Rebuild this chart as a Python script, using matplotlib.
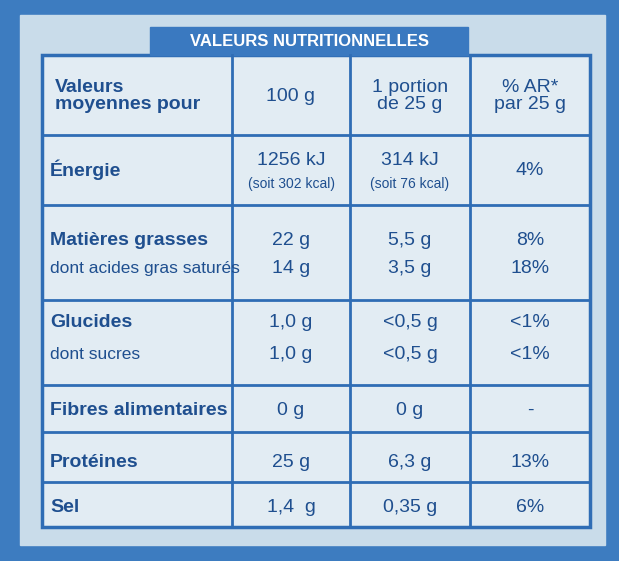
import matplotlib.pyplot as plt
from matplotlib.patches import Rectangle

title = "VALEURS NUTRITIONNELLES"
headers = ["Valeurs\nmoyennes pour", "100 g", "1 portion\nde 25 g", "% AR*\npar 25 g"]
nutrients = ["Énergie", "Matières grasses", "dont acides gras saturés", "Glucides", "dont sucres",
             "Fibres alimentaires", "Protéines", "Sel"]
per100 = ["1256 kJ", "22 g", "14 g", "1,0 g", "1,0 g", "0 g", "25 g", "1,4  g"]
per100_sub = ["(soit 302 kcal)", "", "", "", "", "", "", ""]
portion = ["314 kJ", "5,5 g", "3,5 g", "<0,5 g", "<0,5 g", "0 g", "6,3 g", "0,35 g"]
portion_sub = ["(soit 76 kcal)", "", "", "", "", "", "", ""]
ar = ["4%", "8%", "18%", "<1%", "<1%", "-", "13%", "6%"]
bold = [True, True, False, True, False, True, True, True]
ys = [170, 240, 268, 322, 354, 410, 462, 507]

plt.rcParams['font.family'] = ['Liberation Sans Narrow', 'Liberation Sans', 'DejaVu Sans']
fig = plt.figure(figsize=(6.19, 5.61), dpi=100)
ax = fig.add_axes([0, 0, 1, 1])
ax.set_xlim(0, 619); ax.set_ylim(561, 0); ax.axis("off")
fig.patch.set_facecolor("#3d7cc0")
ax.add_patch(Rectangle((20, 15), 585, 530, color="#c9dcea", zorder=0))
ax.add_patch(Rectangle((42, 55), 548, 472, facecolor="#e2ecf3", edgecolor="#2f6db5", lw=2.5, zorder=1))
ax.add_patch(Rectangle((150, 27), 318, 28, color="#3a79c0", zorder=2))
ax.text(309, 41, title, color="white", fontsize=12, fontweight="bold", ha="center", va="center", zorder=3)
tc = "#1f4f8f"
for x in [232, 350, 470]:
    ax.plot([x, x], [55, 527], color="#2f6db5", lw=2)
for y in [135, 205, 300, 385, 432, 482]:
    ax.plot([42, 590], [y, y], color="#2f6db5", lw=2)
cx = [137, 291, 410, 530]
ax.text(55, 96, headers[0], color=tc, fontsize=14, fontweight="bold", ha="left", va="center", linespacing=1.0)
for i in range(1, 4):
    ax.text(cx[i], 96, headers[i], color=tc, fontsize=14, ha="center", va="center", linespacing=1.0)
for i, n in enumerate(nutrients):
    y = ys[i]
    fs = 14 if bold[i] else 12.5
    ax.text(50, y, n, color=tc, fontsize=fs, fontweight="bold" if bold[i] else "normal", ha="left", va="center")
    if per100_sub[i]:
        ax.text(cx[1], y - 10, per100[i], color=tc, fontsize=14, ha="center", va="center")
        ax.text(cx[1], y + 14, per100_sub[i], color=tc, fontsize=10, ha="center", va="center")
        ax.text(cx[2], y - 10, portion[i], color=tc, fontsize=14, ha="center", va="center")
        ax.text(cx[2], y + 14, portion_sub[i], color=tc, fontsize=10, ha="center", va="center")
    else:
        ax.text(cx[1], y, per100[i], color=tc, fontsize=14, ha="center", va="center")
        ax.text(cx[2], y, portion[i], color=tc, fontsize=14, ha="center", va="center")
    ax.text(cx[3], y, ar[i], color=tc, fontsize=14, ha="center", va="center")
fig.savefig("out.png", dpi=100, facecolor=fig.get_facecolor())
